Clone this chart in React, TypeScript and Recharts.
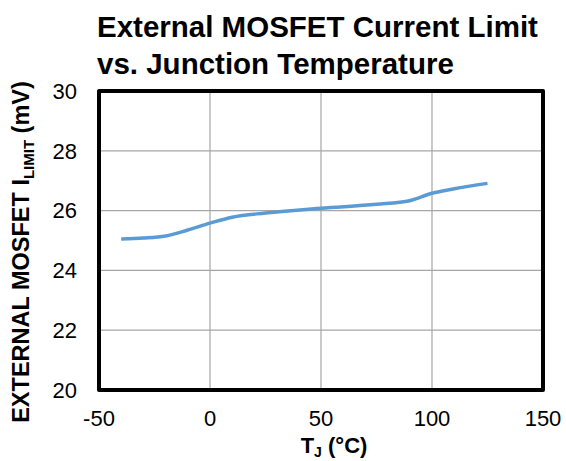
import React from "react";
import {
  LineChart,
  Line,
  XAxis,
  YAxis,
  CartesianGrid,
  ReferenceArea,
} from "recharts";

// Junction temperature (°C) and current limit sense voltage (mV)
const temps = [-40, -30, -20, -10, 0, 10, 25, 50, 75, 90, 100, 110, 125];
const ilimit = [25.05, 25.08, 25.15, 25.35, 25.58, 25.78, 25.92, 26.08, 26.21, 26.33, 26.58, 26.73, 26.91];

const xTicks = [-50, 0, 50, 100, 150];
const yTicks = [20, 22, 24, 26, 28, 30];

const titleLines = ["External MOSFET Current Limit", "vs. Junction Temperature"];

const data = temps.map((t, i) => ({ t, v: ilimit[i] }));

const FONT = '"Liberation Sans", Arial, sans-serif';

const YLabel = () => (
  <text
    x={29}
    y={252}
    transform="rotate(-90, 29, 252)"
    textAnchor="middle"
    fontFamily={FONT}
    fontWeight="bold"
    fontSize={23.5}
    fill="#000"
  >
    <tspan>EXTERNAL MOSFET I</tspan>
    <tspan fontSize={15} dy={5}>LIMIT</tspan>
    <tspan dy={-5}> (mV)</tspan>
  </text>
);

const XLabel = () => (
  <text
    x={334}
    y={453}
    textAnchor="middle"
    fontFamily={FONT}
    fontWeight="bold"
    fontSize={22}
    fill="#000"
  >
    <tspan>T</tspan>
    <tspan fontSize={14} dy={4}>J</tspan>
    <tspan dy={-4}> (°C)</tspan>
  </text>
);

export default function App() {
  return (
    <div
      style={{
        position: "fixed",
        left: 0,
        top: 0,
        width: 566,
        height: 461,
        background: "#fff",
        fontFamily: FONT,
      }}
    >
      <div
        style={{
          position: "absolute",
          left: 97,
          top: 8,
          fontSize: 29.5,
          fontWeight: "bold",
          lineHeight: "37px",
          color: "#000",
          whiteSpace: "nowrap",
        }}
      >
        {titleLines.map((l) => (
          <div key={l}>{l}</div>
        ))}
      </div>
      <LineChart
        width={566}
        height={461}
        data={data}
        margin={{ top: 91, right: 23, bottom: 0, left: 0 }}
        style={{ position: "absolute", left: 0, top: 0 }}
      >
        <CartesianGrid stroke="#a6a6a6" strokeWidth={1.2} />
        <XAxis
          dataKey="t"
          type="number"
          domain={[-50, 150]}
          ticks={xTicks}
          height={71}
          axisLine={false}
          tickLine={false}
          tickSize={0}
          tickMargin={20}
          tick={{ fill: "#000", fontSize: 22, fontFamily: FONT }}
          label={<XLabel />}
        />
        <YAxis
          type="number"
          domain={[20, 30]}
          ticks={yTicks}
          width={99}
          axisLine={false}
          tickLine={false}
          tickSize={0}
          tickMargin={22}
          tick={{ fill: "#000", fontSize: 22, fontFamily: FONT }}
          label={<YLabel />}
        />
        <Line
          type="monotone"
          dataKey="v"
          stroke="#5b9bd5"
          strokeWidth={3.5}
          dot={false}
          isAnimationActive={false}
        />
        <ReferenceArea
          x1={-50}
          x2={150}
          y1={20}
          y2={30}
          fill="none"
          fillOpacity={0}
          stroke="#000"
          strokeWidth={4}
          strokeLinejoin="round"
        />
      </LineChart>
    </div>
  );
}
